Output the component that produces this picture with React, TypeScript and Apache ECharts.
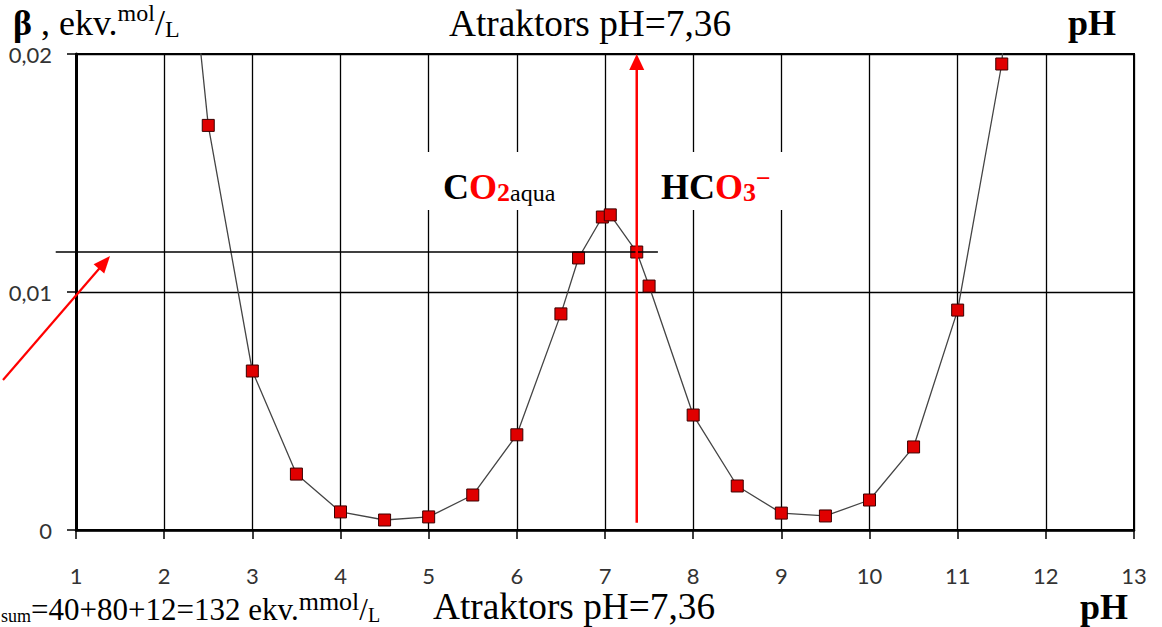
import React, { useEffect, useRef } from 'react';
import * as echarts from 'echarts';

// pH values of the measured points
const phValues = [2, 2.5, 3, 3.5, 4, 4.5, 5, 5.5, 6, 6.5, 6.7, 6.97, 7.06, 7.36, 7.5, 8, 8.5, 9, 9.5, 10, 10.5, 11, 11.5, 12];
// buffer capacity beta, ekv. mol/L
const betaValues = [0.035, 0.017, 0.00668, 0.00235, 0.00076, 0.00042, 0.00055, 0.00147, 0.004, 0.00908, 0.01143, 0.01315, 0.01324, 0.01168, 0.01025, 0.00483, 0.00185, 0.00071, 0.00059, 0.00126, 0.00349, 0.00924, 0.01958, 0.045];
const xTickMin = 1;
const xTickMax = 13;
const yTickValues = [0, 0.01, 0.02];
const attractorPH = 7.36;
const attractorBeta = 0.01168;

const SERIF = '"Liberation Serif", "Times New Roman", serif';
const lh = (fs: number) => 0.675 * fs + 16;

function arrowHead(tip: number[], tail: number[], len: number, half: number) {
  const dx = tip[0] - tail[0];
  const dy = tip[1] - tail[1];
  const d = Math.sqrt(dx * dx + dy * dy);
  const ux = dx / d, uy = dy / d;
  const bx = tip[0] - ux * len, by = tip[1] - uy * len;
  return [tip, [bx - uy * half, by + ux * half], [bx + uy * half, by - ux * half]];
}

export default function App() {
  const ref = useRef<HTMLDivElement>(null);
  useEffect(() => {
    if (!ref.current) return;
    const chart = echarts.init(ref.current, null, { renderer: 'svg' });
    const axisLabelStyle = { fontFamily: 'Lato, "Open Sans", sans-serif', fontSize: 22, color: '#333' };
    chart.setOption({
      animation: false,
      backgroundColor: '#ffffff',
      grid: { left: 76, right: 28, top: 54, bottom: 97, show: true, borderColor: '#000', borderWidth: 2, backgroundColor: 'transparent' },
      xAxis: {
        type: 'value', min: xTickMin, max: xTickMax, interval: 1,
        axisLine: { onZero: false, lineStyle: { color: '#000', width: 2.5 } },
        axisTick: { show: true, length: 9, lineStyle: { color: '#000', width: 1.5 } },
        axisLabel: { ...axisLabelStyle, margin: 34 },
        splitLine: { show: true, lineStyle: { color: '#000', width: 1.3 } },
      },
      yAxis: {
        type: 'value', min: yTickValues[0], max: yTickValues[yTickValues.length - 1], interval: 0.01,
        axisLine: { show: true, lineStyle: { color: '#000', width: 3 } },
        axisTick: { show: true, length: 9, lineStyle: { color: '#000', width: 1.5 } },
        axisLabel: { ...axisLabelStyle, margin: 24, formatter: (v: number) => (v === 0 ? '0' : v.toFixed(2).replace('.', ',')) },
        splitLine: { show: true, lineStyle: { color: '#000', width: 1.3 } },
      },
      series: [{
        type: 'line',
        data: phValues.map((x, i) => [x, betaValues[i]]),
        symbol: 'rect', symbolSize: 12, showAllSymbol: true, clip: true,
        lineStyle: { color: '#444', width: 1.3 },
        itemStyle: { color: '#e00000', borderColor: '#3a0000', borderWidth: 1 },
        z: 2,
      }],
    });

    const p = (x: number, y: number) => chart.convertToPixel({ gridIndex: 0 }, [x, y]) as number[];
    const hL = p(0.77, attractorBeta), hR = p(7.6, attractorBeta);
    const vB = p(attractorPH, 0.0003), vT = p(attractorPH, 0.02);
    const dTail = p(0.172, 0.0063), dTip = p(1.386, 0.01151);
    const co2A = p(4.9, 0.01588), co2B = p(6.55, 0.01345);
    const hcoA = p(7.55, 0.01588), hcoB = p(9.1, 0.01345);

    const vHead = arrowHead(vT, vB, 16, 7.5);
    const dHead = arrowHead(dTip, dTail, 17, 7);
    const vHeadBase = [vT[0], vT[1] + 15];

    const rich = {
      b: { fontFamily: SERIF, fontSize: 36, fontWeight: 'bold', fill: '#000', lineHeight: lh(36), verticalAlign: 'bottom' },
      n: { fontFamily: SERIF, fontSize: 36, fill: '#000', lineHeight: lh(36), verticalAlign: 'bottom' },
      t: { fontFamily: SERIF, fontSize: 37.3, fill: '#000', lineHeight: lh(37.3), verticalAlign: 'bottom' },
      sl: { fontFamily: SERIF, fontSize: 31, fill: '#000', lineHeight: lh(31), verticalAlign: 'bottom' },
      s: { fontFamily: SERIF, fontSize: 24, fill: '#000', lineHeight: 28, verticalAlign: 'top' },
      s2: { fontFamily: SERIF, fontSize: 26, fill: '#000', lineHeight: 28, verticalAlign: 'top' },
      u: { fontFamily: SERIF, fontSize: 24, fill: '#000', lineHeight: 28, verticalAlign: 'bottom' },
      u2: { fontFamily: SERIF, fontSize: 20, fill: '#000', lineHeight: 24, verticalAlign: 'bottom' },
      u3: { fontFamily: SERIF, fontSize: 18, fill: '#000', lineHeight: 22, verticalAlign: 'bottom' },
      r: { fontFamily: SERIF, fontSize: 36, fontWeight: 'bold', fill: '#ff0000', lineHeight: lh(36), verticalAlign: 'bottom' },
      r2: { fontFamily: SERIF, fontSize: 26, fontWeight: 'bold', fill: '#ff0000', lineHeight: lh(26), verticalAlign: 'bottom' },
      r3: { fontFamily: SERIF, fontSize: 26, fontWeight: 'bold', fill: '#ff0000', lineHeight: lh(26) - 6, verticalAlign: 'bottom' },
      rs: { fontFamily: SERIF, fontSize: 26, fontWeight: 'bold', fill: '#ff0000', lineHeight: 22, verticalAlign: 'top' },
      a: { fontFamily: SERIF, fontSize: 24, fill: '#000', lineHeight: lh(24), verticalAlign: 'bottom' },
    };

    chart.setOption({
      graphic: [
        { type: 'rect', z: 5, shape: { x: co2A[0], y: co2A[1], width: co2B[0] - co2A[0], height: co2B[1] - co2A[1] }, style: { fill: '#fff' } },
        { type: 'rect', z: 5, shape: { x: hcoA[0], y: hcoA[1], width: hcoB[0] - hcoA[0], height: hcoB[1] - hcoA[1] }, style: { fill: '#fff' } },
        { type: 'text', z: 6, x: 443, y: 165, style: { text: '{b|C}{r|O}{r2|2}{a|aqua}', rich, align: 'left', verticalAlign: 'top' } },
        { type: 'text', z: 6, x: 661, y: 165, style: { text: '{b|HC}{r|O}{r3|3}{rs|−}', rich, align: 'left', verticalAlign: 'top' } },
        // header
        { type: 'text', z: 6, x: 13, y: 1, style: { text: '{b|β}{n| , ekv.}{s|mol}{n|/}{u|L}', rich, align: 'left', verticalAlign: 'top' } },
        { type: 'text', z: 6, x: 449, y: 1, style: { text: '{t|Atraktors pH=7,36}', rich, align: 'left', verticalAlign: 'top' } },
        { type: 'text', z: 6, x: 1068, y: 1, style: { text: '{b|pH}', rich, align: 'left', verticalAlign: 'top' } },
        // footer
        { type: 'text', z: 6, x: 1, y: 588, style: { text: '{u3|sum}{sl|=40+80+12=132 ekv.}{s2|mmol}{sl|/}{u2|L}', rich, align: 'left', verticalAlign: 'top' } },
        { type: 'text', z: 6, x: 433, y: 584, style: { text: '{t|Atraktors pH=7,36}', rich, align: 'left', verticalAlign: 'top' } },
        { type: 'text', z: 6, x: 1080, y: 585, style: { text: '{b|pH}', rich, align: 'left', verticalAlign: 'top' } },
        // attractor level line
        { type: 'line', z: 100, shape: { x1: hL[0], y1: hL[1], x2: hR[0], y2: hR[1] }, style: { stroke: '#000', lineWidth: 1.5 } },
        // vertical red arrow
        { type: 'line', z: 100, shape: { x1: vB[0], y1: vB[1], x2: vHeadBase[0], y2: vHeadBase[1] }, style: { stroke: '#ff0000', lineWidth: 2.5 } },
        { type: 'polygon', z: 100, shape: { points: vHead }, style: { fill: '#ff0000' } },
        // diagonal red arrow
        { type: 'line', z: 100, shape: { x1: dTail[0], y1: dTail[1], x2: dTip[0] - (dTip[0] - dTail[0]) * 0.08, y2: dTip[1] - (dTip[1] - dTail[1]) * 0.08 }, style: { stroke: '#ff0000', lineWidth: 2.2 } },
        { type: 'polygon', z: 100, shape: { points: dHead }, style: { fill: '#ff0000' } },
      ],
    });
    return () => chart.dispose();
  }, []);
  return <div ref={ref} style={{ position: 'fixed', left: 0, top: 0, width: 1162, height: 627 }} />;
}
